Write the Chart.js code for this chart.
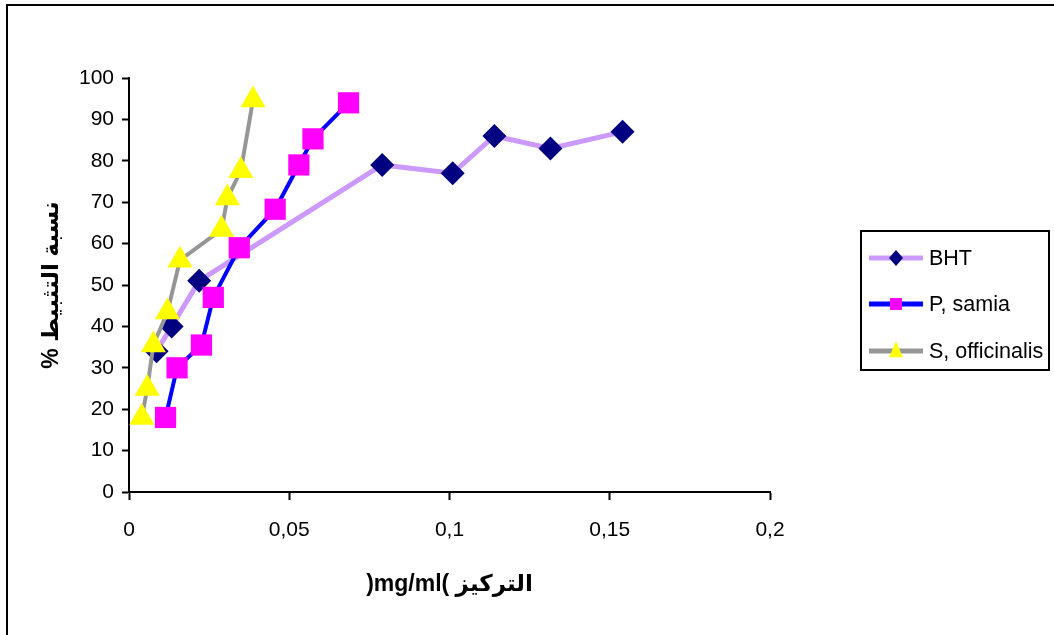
<!DOCTYPE html>
<html>
<head>
<meta charset="utf-8">
<script src="https://cdn.jsdelivr.net/npm/chart.js"></script>
<style>
  html, body { margin: 0; padding: 0; background: #ffffff; }
  canvas { display: block; }
</style>
</head>
<body>
<canvas id="c" width="1054" height="635"></canvas>
<script>
// ---- data ----
const seriesNames = ['BHT', 'P, samia', 'S, officinalis'];

const bhtX = [0.0086, 0.0133, 0.0219, 0.079, 0.101, 0.114, 0.1315, 0.154];
const bhtY = [34, 40, 51, 79, 77, 86, 83, 87];

const samiaX = [0.0114, 0.015, 0.0226, 0.0263, 0.0344, 0.0456, 0.053, 0.0574, 0.0685];
const samiaY = [18, 30, 35.5, 47, 59, 68.3, 79, 85.3, 94];

const offX = [0.004, 0.0057, 0.0076, 0.012, 0.0159, 0.0289, 0.0307, 0.0349, 0.0387];
const offY = [18, 25, 35.5, 43.5, 56, 63.4, 71, 77.6, 94.7];

const xTickLabels = ['0', '0,05', '0,1', '0,15', '0,2'];
const yTickLabels = ['0', '10', '20', '30', '40', '50', '60', '70', '80', '90', '100'];

const xTitle = ')mg/ml( التركيز';
const yTitle = '% نسبة التثبيط';

const FONT = "'Liberation Sans', Arial, 'DejaVu Sans', sans-serif";

function pts(xs, ys) { return xs.map((x, i) => ({ x: x, y: ys[i] })); }

// ---- plugin: outer frame + boxed legend ----
const framePlugin = {
  id: 'frameAndLegend',
  afterDraw(chart) {
    const ctx = chart.ctx;
    ctx.save();
    // outer chart frame (right/bottom edges lie outside the picture)
    ctx.strokeStyle = '#000';
    ctx.lineWidth = 2;
    ctx.strokeRect(7, 5, 1060, 640);

    // legend box
    const bx = 861, by = 231, bw = 188, bh = 139;
    ctx.fillStyle = '#fff';
    ctx.fillRect(bx, by, bw, bh);
    ctx.strokeRect(bx, by, bw, bh);

    const rows = [258, 304, 351];
    chart.data.datasets.forEach((ds, i) => {
      const y = rows[i];
      ctx.strokeStyle = ds.borderColor;
      ctx.lineWidth = 5;
      ctx.beginPath();
      ctx.moveTo(869, y);
      ctx.lineTo(923, y);
      ctx.stroke();
      const cx = 896;
      ctx.fillStyle = ds.pointBackgroundColor;
      ctx.beginPath();
      if (ds.pointStyle === 'rectRot') {
        const r = 7;
        ctx.moveTo(cx, y - r - 1); ctx.lineTo(cx + r, y); ctx.lineTo(cx, y + r + 1); ctx.lineTo(cx - r, y);
      } else if (ds.pointStyle === 'rect') {
        ctx.rect(cx - 6, y - 6, 12, 12);
      } else {
        const r = 8.5;
        ctx.moveTo(cx, y - r - 1);
        ctx.lineTo(cx + r * 0.82, y + r * 0.5 + 2);
        ctx.lineTo(cx - r * 0.82, y + r * 0.5 + 2);
      }
      ctx.closePath();
      ctx.fill();
      ctx.fillStyle = '#000';
      ctx.font = '21.5px ' + FONT;
      ctx.textBaseline = 'middle';
      ctx.textAlign = 'left';
      ctx.fillText(ds.label, 929, y + 1);
    });
    ctx.restore();
  }
};

const ctx = document.getElementById('c').getContext('2d');
new Chart(ctx, {
  type: 'scatter',
  data: {
    datasets: [
      {
        label: seriesNames[0],
        data: pts(bhtX, bhtY),
        showLine: true,
        borderColor: '#CC99FF',
        borderWidth: 5,
        pointStyle: 'rectRot',
        pointRadius: 12,
        pointHoverRadius: 12,
        pointBackgroundColor: '#000080',
        pointBorderColor: '#000080',
        pointBorderWidth: 0,
        order: 3
      },
      {
        label: seriesNames[1],
        data: pts(samiaX, samiaY),
        showLine: true,
        borderColor: '#0000FF',
        borderWidth: 4,
        pointStyle: 'rect',
        pointRadius: 15,
        pointHoverRadius: 15,
        pointBackgroundColor: '#FF00FF',
        pointBorderColor: '#FF00FF',
        pointBorderWidth: 0,
        order: 2
      },
      {
        label: seriesNames[2],
        data: pts(offX, offY),
        showLine: true,
        borderColor: '#969696',
        borderWidth: 4,
        pointStyle: 'triangle',
        pointRadius: 14.5,
        pointHoverRadius: 14.5,
        pointBackgroundColor: '#FFFF00',
        pointBorderColor: '#FFFF00',
        pointBorderWidth: 0,
        order: 1
      }
    ]
  },
  options: {
    responsive: false,
    animation: false,
    events: [],
    layout: { padding: { left: 0, top: 78, right: 284, bottom: 0 } },
    plugins: {
      legend: { display: false },
      tooltip: { enabled: false }
    },
    elements: { line: { tension: 0 } },
    scales: {
      x: {
        type: 'linear',
        min: 0, max: 0.2,
        afterFit(scale) { scale.height = 143; },
        afterBuildTicks(scale) {
          scale.ticks = xTickLabels.map((t, i) => ({ value: i * 0.05 }));
        },
        ticks: {
          color: '#000',
          font: { family: FONT, size: 21 },
          padding: 18,
          maxRotation: 0,
          autoSkip: false,
          callback: (v, i) => xTickLabels[i]
        },
        grid: {
          drawOnChartArea: false,
          drawTicks: true,
          tickLength: 8,
          tickWidth: 2,
          tickColor: '#000'
        },
        border: { display: true, color: '#000', width: 2 },
        title: {
          display: true,
          text: xTitle,
          color: '#000',
          font: { family: FONT, size: 23, weight: 'bold' },
          padding: { top: 0, bottom: 37 }
        }
      },
      y: {
        type: 'linear',
        min: 0, max: 100,
        afterFit(scale) { scale.width = 129; },
        afterBuildTicks(scale) {
          scale.ticks = yTickLabels.map((t, i) => ({ value: i * 10 }));
        },
        ticks: {
          color: '#000',
          font: { family: FONT, size: 21 },
          padding: 8,
          autoSkip: false,
          callback: (v, i) => yTickLabels[i]
        },
        grid: {
          drawOnChartArea: false,
          drawTicks: true,
          tickLength: 7,
          tickWidth: 2,
          tickColor: '#000'
        },
        border: { display: true, color: '#000', width: 2 },
        title: {
          display: true,
          text: yTitle,
          color: '#000',
          font: { family: FONT, size: 23, weight: 'bold' },
          padding: { top: 38, bottom: 0 }
        }
      }
    }
  },
  plugins: [framePlugin]
});
</script>
</body>
</html>
